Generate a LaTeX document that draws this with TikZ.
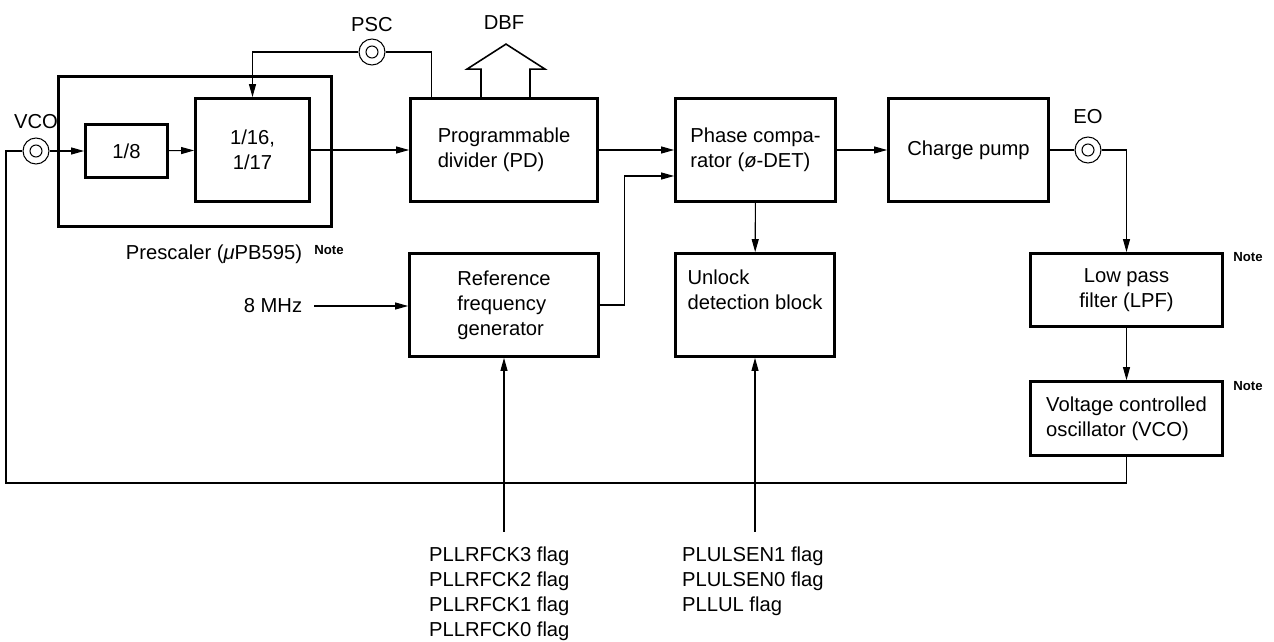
\documentclass[tikz,border=0pt]{standalone}
\usepackage{fontspec}
\setmainfont{Liberation Sans}
\usepackage{tikz}
\usetikzlibrary{positioning,arrows.meta,calc}
\newcommand{\blkfont}{\fontsize{11.5}{14.2}\selectfont}
\newcommand{\notefont}{\fontsize{7.5}{9}\selectfont\bfseries}

\begin{document}
\begin{tikzpicture}[x=0.02cm,y=-0.02cm,
  box/.style={rectangle,draw,line width=1.6pt,align=center,font=\blkfont,inner sep=2pt},
  lbl/.style={font=\blkfont,inner sep=1pt},
  note/.style={font=\notefont,inner sep=1pt},
  term/.style={circle,draw,line width=0.6pt,minimum size=0.52cm,inner sep=0pt,
               path picture={\draw[line width=0.6pt] (path picture bounding box.center) circle (0.12cm);}},
  ln/.style={line width=0.6pt},
  arr/.style={ln,-{Triangle[length=2.6mm,width=1.4mm]}}
]
\useasboundingbox (0,0) rectangle (1274,642);

% prescaler
\node[box,minimum width=5.46cm,minimum height=3cm] (presc) at (195,151.5) {};
\node[box,minimum width=1.64cm,minimum height=1.06cm] (div8) at (126.5,151) {1/8};
\node[box,minimum width=2.28cm,minimum height=2.06cm] (div16) at (252.5,150) {1/16,\\1/17};
\node[lbl] (presclbl) at (214,254) {Prescaler (\textit{μ}PB595)};
\node[note] (presnote) at (329,250) {Note};

% main blocks
\node[box,minimum width=3.74cm,minimum height=2.06cm,align=left] (pd) at (504,150) {Programmable\\divider (PD)};
\node[box,minimum width=3.2cm,minimum height=2.06cm,align=left] (pc) at (755.5,150) {Phase compa-\\rator (\textit{ø}-DET)};
\node[box,minimum width=3.2cm,minimum height=2.06cm] (cp) at (968.5,150) {Charge pump};
\node[box,minimum width=3.78cm,minimum height=2.06cm,align=left] (rfg) at (504,305) {Reference\\frequency\\generator};
\node[box,minimum width=3.18cm,minimum height=2.06cm,align=left] (unl) at (755,305) {Unlock\\detection block\\[0.1cm]};
\node[box,minimum width=3.84cm,minimum height=1.46cm] (lpf) at (1126.5,290) {Low pass\\filter (LPF)};
\node[box,minimum width=3.84cm,minimum height=1.48cm,align=left] (vcobox) at (1126.5,418.5) {Voltage controlled\\oscillator (VCO)};
\node[note] (lpfnote) at (1248,257) {Note};
\node[note] (vconote) at (1248,386) {Note};

% terminals
\node[term] (vco) at (36,151) {};
\node[lbl] (vcolbl) at (36,122) {VCO};
\node[term] (psc) at (372,52) {};
\node[lbl] (psclbl) at (372,25) {PSC};
\node[term] (eo) at (1088,150) {};
\node[lbl] (eolbl) at (1088,117) {EO};
\node[lbl] (dbflbl) at (504,23) {DBF};

% inputs
\node[lbl] (mhz) at (273,306) {8 MHz};
\node[lbl,align=left,anchor=north west] (rfflags) at (427,545) {PLLRFCK3 flag\\PLLRFCK2 flag\\PLLRFCK1 flag\\PLLRFCK0 flag};
\node[lbl,align=left,anchor=north west] (ulflags) at (680,545) {PLULSEN1 flag\\PLULSEN0 flag\\PLLUL flag};
\coordinate (rftop) at ($(rfg.south)+(0,174)$);
\coordinate (ultop) at ($(unl.south)+(0,174)$);
\coordinate (fbl) at (6,483);

% connectors
\draw[arr] (vco) -- (div8);
\draw[arr] (div8) -- (div16);
\draw[arr] (div16) -- (pd);
\draw[arr] (psc.west) -| (div16.north);
\draw[ln] (psc.east) -| ([xshift=0.44cm]pd.north west);
\draw[line width=0.9pt] ([xshift=-0.46cm]pd.north) -- ++(0,-28) -- ++(-14,0) -- ++(39,-25) -- ++(39,25) -- ++(-15,0) -- ++(0,28);
\draw[arr] (pd) -- (pc);
\draw[arr] (rfg.east) -- ++(0.5cm,0) |- ([yshift=-0.52cm]pc.west);
\draw[arr] (pc) -- (cp);
\draw[arr] (pc) -- (unl);
\draw[ln] (cp.east) -- (eo.west);
\draw[arr] (eo.east) -| (lpf.north);
\draw[arr] (lpf) -- (vcobox);
\draw[ln] (vcobox.south) |- (fbl) |- (vco.west);
\draw[arr,shorten <=0.2cm] (mhz.east) -- (mhz.east -| rfg.west);
\draw[arr] (rftop) -- (rfg.south);
\draw[arr] (ultop) -- (unl.south);
\end{tikzpicture}
\end{document}
